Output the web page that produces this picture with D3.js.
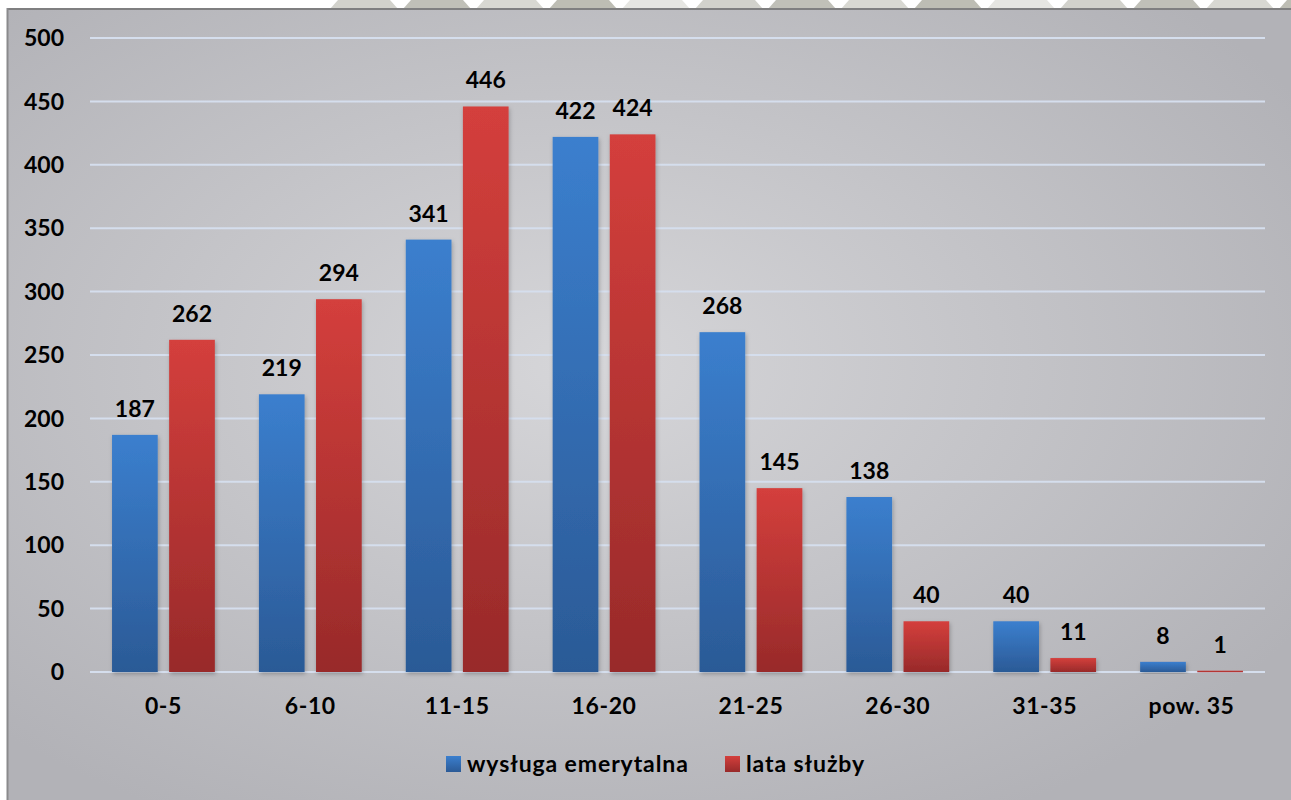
<!DOCTYPE html>
<html><head><meta charset="utf-8">
<script src="https://cdn.jsdelivr.net/npm/d3@7"></script>
<style>html,body{margin:0;padding:0;background:#fff;overflow:hidden}svg{display:block}</style>
</head><body>
<script>
const categories = ["0-5","6-10","11-15","16-20","21-25","26-30","31-35","pow. 35"];
const seriesNames = ["wysługa emerytalna","lata służby"];
const wysluga = [187,219,341,422,268,138,40,8];
const lataSluzby = [262,294,446,424,145,40,11,1];
const yTicks = [0,50,100,150,200,250,300,350,400,450,500];

const W=1291,H=800;
const svg=d3.select("body").append("svg").attr("width",W).attr("height",H);
const defs=svg.append("defs");
const bg=defs.append("radialGradient").attr("id","bg").attr("cx","45%").attr("cy","45%").attr("r","65%");
bg.append("stop").attr("offset","0%").attr("stop-color","#d6d6d9");
bg.append("stop").attr("offset","100%").attr("stop-color","#b2b2b7");
const gb=defs.append("linearGradient").attr("id","gb").attr("x1",0).attr("y1",0).attr("x2",0).attr("y2",1);
gb.append("stop").attr("offset","0%").attr("stop-color","#3b7fce");
gb.append("stop").attr("offset","100%").attr("stop-color","#2b5a96");
const gr=defs.append("linearGradient").attr("id","gr").attr("x1",0).attr("y1",0).attr("x2",0).attr("y2",1);
gr.append("stop").attr("offset","0%").attr("stop-color","#d43f3c");
gr.append("stop").attr("offset","100%").attr("stop-color","#982a2a");
const sh=defs.append("filter").attr("id","sh").attr("x","-20%").attr("y","-5%").attr("width","140%").attr("height","115%");
sh.append("feDropShadow").attr("dx",1).attr("dy",2).attr("stdDeviation",2).attr("flood-color","#000").attr("flood-opacity",0.25);

// top hex strip
svg.append("rect").attr("x",0).attr("y",0).attr("width",W).attr("height",9).attr("fill","#fff");
const hx=d3.range(330,1291,73);
svg.append("g").selectAll("path").data(hx).join("path")
  .attr("d",(x,i)=>`M${x},9 L${x+8},0 L${x+60},0 L${x+68},9 Z`)
  .attr("fill",(x,i)=>["#d2d2cc","#c0c0b8","#d8d8d2","#bdbdb4","#e6e6e2"][i%5]);
// background
svg.append("rect").attr("x",7).attr("y",8).attr("width",W-7).attr("height",H-8).attr("fill","url(#bg)");
svg.append("line").attr("x1",7).attr("x2",W).attr("y1",9).attr("y2",9).attr("stroke","#7f7f80").attr("stroke-width",2);
svg.append("line").attr("x1",7.5).attr("x2",7.5).attr("y1",8).attr("y2",H).attr("stroke","#8a8a8c").attr("stroke-width",2);

const x0=d3.scaleBand().domain(categories).range([90,1265]).paddingInner(0.3).paddingOuter(0.15);
const x1=d3.scaleBand().domain(seriesNames).range([0,x0.bandwidth()]).paddingInner(0.2);
const y=d3.scaleLinear().domain([0,500]).range([672,38]);

const font="Lato, 'Open Sans', sans-serif";
// grid
svg.append("g").selectAll("line").data(yTicks).join("line")
  .attr("x1",90).attr("x2",1265).attr("y1",d=>y(d)).attr("y2",d=>y(d))
  .attr("stroke","#d5deed").attr("stroke-width",2);
// y labels
svg.append("g").selectAll("text").data(yTicks).join("text")
  .attr("x",64).attr("y",d=>y(d)).attr("dy","0.36em").attr("text-anchor","end")
  .attr("font-family",font).attr("font-weight","bold").attr("font-size",23).attr("fill","#000").text(d=>d);
// x labels
svg.append("g").selectAll("text").data(categories).join("text")
  .attr("x",d=>x0(d)+x0.bandwidth()/2).attr("y",714).attr("text-anchor","middle")
  .attr("font-family",font).attr("font-weight","bold").attr("font-size",23).attr("letter-spacing",0.6).attr("fill","#000").text(d=>d);

const series=[{name:seriesNames[0],vals:wysluga,fill:"url(#gb)"},{name:seriesNames[1],vals:lataSluzby,fill:"url(#gr)"}];
series.forEach(s=>{
  const g=svg.append("g");
  const data=categories.map((c,i)=>({c,v:s.vals[i]}));
  g.selectAll("rect").data(data).join("rect")
    .attr("x",d=>x0(d.c)+x1(s.name)).attr("width",x1.bandwidth())
    .attr("y",d=>y(d.v)).attr("height",d=>Math.max(1.5,y(0)-y(d.v)))
    .attr("fill",s.fill).attr("filter","url(#sh)");
  g.selectAll("text").data(data).join("text")
    .attr("x",d=>x0(d.c)+x1(s.name)+x1.bandwidth()/2).attr("y",d=>y(d.v)-18)
    .attr("text-anchor","middle").attr("font-family",font).attr("font-weight","bold")
    .attr("font-size",23).attr("fill","#000").text(d=>d.v);
});

// legend
const leg=[{n:seriesNames[0],f:"url(#gb)",x:446},{n:seriesNames[1],f:"url(#gr)",x:725}];
leg.forEach(l=>{
  svg.append("rect").attr("x",l.x).attr("y",756).attr("width",15).attr("height",16).attr("fill",l.f);
  svg.append("text").attr("x",l.x+21).attr("y",772).attr("font-family",font).attr("font-weight","bold")
    .attr("font-size",23).attr("letter-spacing",0.9).attr("fill","#000").text(l.n);
});
</script>
</body></html>
